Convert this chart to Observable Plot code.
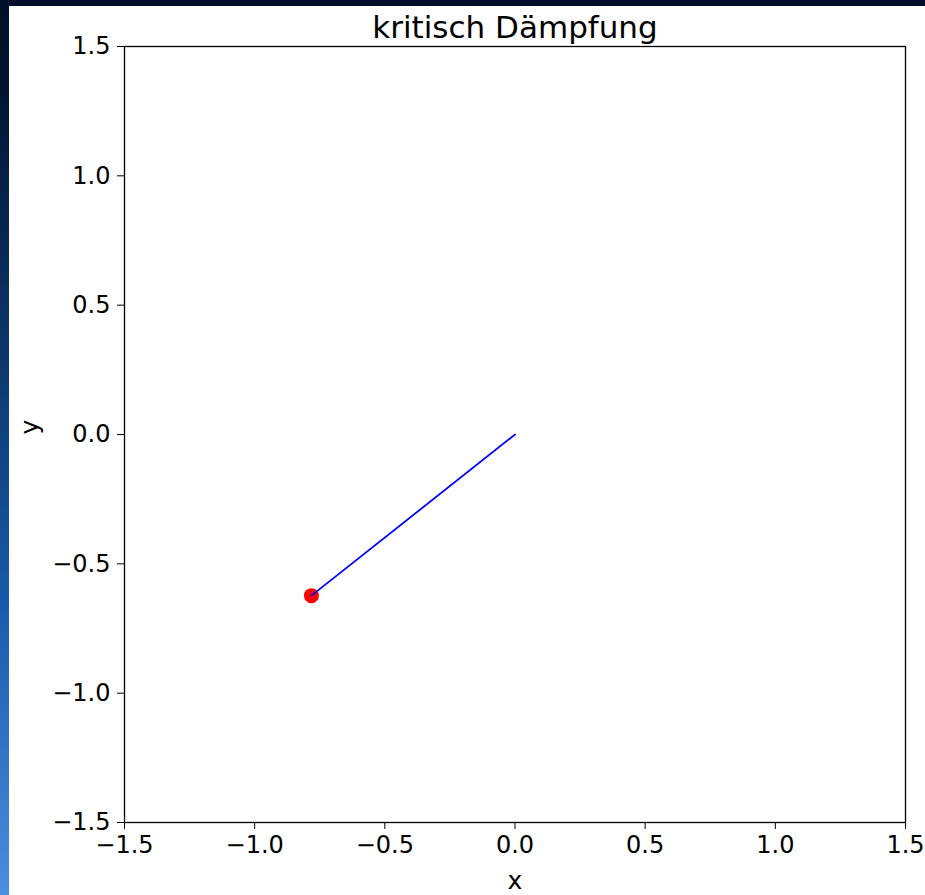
<!DOCTYPE html>
<html>
<head>
<meta charset="utf-8">
<script src="https://cdn.jsdelivr.net/npm/d3@7"></script>
<script src="https://cdn.jsdelivr.net/npm/@observablehq/plot@0.6"></script>
<style>
  html, body { margin: 0; padding: 0; }
  body {
    width: 925px; height: 895px; overflow: hidden; position: relative;
    background: linear-gradient(to bottom, #00102a 0px, #01142f 80px, #0b3264 320px, #175aa8 600px, #4a8ee0 895px);
  }
  #panel { position: absolute; left: 9px; top: 6px; width: 916px; height: 889px; background: #fff; }
</style>
</head>
<body>
<div id="panel"></div>
<script>
// Pendulum snapshot: pivot at the origin, bob at the end of the rod
const rodX = [0, -0.782];
const rodY = [0, -0.623];
const bobX = [-0.782];
const bobY = [-0.623];
const tickValues = [-1.5, -1.0, -0.5, 0.0, 0.5, 1.0, 1.5];
const titleText = "kritisch Dämpfung";
const xLabel = "x";
const yLabel = "y";

const rod = rodX.map((x, i) => ({x, y: rodY[i]}));
const bob = bobX.map((x, i) => ({x, y: bobY[i]}));
const fmt = d3.format(".1f");

const chart = Plot.plot({
  width: 916,
  height: 889,
  marginLeft: 115,
  marginRight: 20,
  marginTop: 40,
  marginBottom: 73,
  x: {domain: [-1.5, 1.5]},
  y: {domain: [-1.5, 1.5]},
  style: {fontFamily: "'DejaVu Sans', sans-serif", fontSize: "24px", background: "white", color: "black"},
  marks: [
    Plot.axisX({ticks: tickValues, tickSize: 7, tickPadding: 6, tickFormat: fmt, label: null}),
    Plot.axisY({ticks: tickValues, tickSize: 7, tickPadding: 7, tickFormat: fmt, label: null}),
    Plot.dot(bob, {x: "x", y: "y", r: 7.5, fill: "#ff0000", stroke: "none"}),
    Plot.line(rod, {x: "x", y: "y", stroke: "#0000ff", strokeWidth: 1.8}),
    Plot.frame({stroke: "black", strokeWidth: 1.3}),
    Plot.text([titleText], {frameAnchor: "top", lineAnchor: "bottom", dy: -9, fontSize: 31}),
    Plot.text([xLabel], {frameAnchor: "bottom", lineAnchor: "bottom", dy: 66, fontSize: 25}),
    Plot.text([yLabel], {frameAnchor: "left", rotate: -90, dx: -95, fontSize: 25})
  ]
});
document.getElementById("panel").appendChild(chart);
</script>
</body>
</html>
